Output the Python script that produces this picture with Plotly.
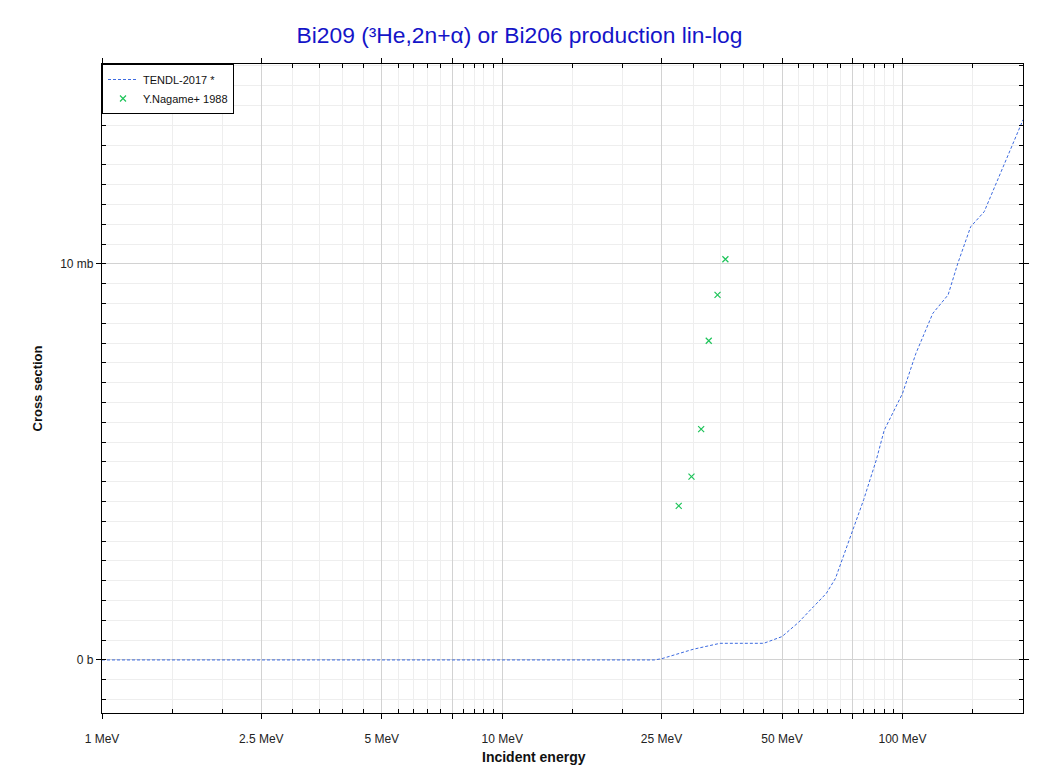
import math
import plotly.graph_objects as go

# ---- data ----
tendl_energy_mev = [1, 5, 10, 20, 24, 25, 26.7, 30, 35, 45, 50, 55, 60, 64.5, 68, 70.5,
                    75, 80, 86, 90, 100, 108, 119, 130, 137.5, 148, 160, 171.5, 200]
tendl_xs_mb = [0, 0, 0, 0, 0, 0.03, 0.12, 0.27, 0.42, 0.42, 0.59, 0.95, 1.35, 1.68, 2.06, 2.5,
               3.3, 4.05, 5.05, 5.8, 6.73, 7.74, 8.75, 9.22, 10.02, 10.94, 11.32, 12.04, 13.64]

nagame_energy_mev = [27.6, 29.7, 31.4, 32.8, 34.5, 36.1]
nagame_xs_mb = [3.89, 4.63, 5.83, 8.06, 9.22, 10.12]

x_major_vals = [1, 2.5, 5, 7.5, 10, 25, 50, 75, 100]
x_major_text = ["1 MeV", "2.5 MeV", "5 MeV", "", "10 MeV", "25 MeV", "50 MeV", "", "100 MeV"]
x_minor_vals = [1.5, 2, 3, 3.5, 4, 4.5, 5.5, 6, 6.5, 7, 8, 8.5, 9, 9.5, 15, 20, 30, 35, 40, 45,
                55, 60, 65, 70, 80, 85, 90, 95, 150]
y_major_vals = [0, 10]
y_major_text = ["0 b", "10 mb"]

title_text = "Bi209 (³He,2n+α) or Bi206 production lin-log"

fig = go.Figure()
fig.add_trace(go.Scatter(
    x=tendl_energy_mev, y=tendl_xs_mb, mode="lines", name="TENDL-2017 *",
    line=dict(color="#3d6be0", width=1, dash="3px,2px"),
))
fig.add_trace(go.Scatter(
    x=nagame_energy_mev, y=nagame_xs_mb, mode="markers", name="Y.Nagame+ 1988",
    marker=dict(symbol="x-thin", size=6, color="#1ec45a", line=dict(color="#1ec45a", width=1.2)),
))

# body has an 8px default margin in the page, so the figure is offset by 8px
fig.update_layout(
    width=1053, height=774,
    margin=dict(l=94, r=38, t=56, b=69),
    paper_bgcolor="white", plot_bgcolor="white",
    font=dict(family="Liberation Sans, Arial, sans-serif", size=12, color="#222"),
    title=dict(text=title_text, x=(519.5 - 8) / 1053, xref="container", y=1 - 27 / 774, yref="container",
               xanchor="center", yanchor="middle",
               font=dict(size=22.8, color="#1414c8")),
    showlegend=True,
    legend=dict(x=0, y=1, xanchor="left", yanchor="top", bgcolor="white",
                bordercolor="black", borderwidth=1, font=dict(size=11, color="#111"),
                tracegroupgap=0),
    annotations=[
        dict(text="<b>Incident energy</b>", xref="paper", yref="paper",
             x=(533.5 - 102) / 921, y=-44 / 649, xanchor="center", yanchor="middle",
             showarrow=False, font=dict(size=14, color="#111")),
        dict(text="<b>Cross section</b>", xref="paper", yref="paper",
             x=-65 / 921, y=0.5, xanchor="center", yanchor="middle", textangle=-90,
             showarrow=False, font=dict(size=13, color="#111")),
    ],
)

fig.update_xaxes(
    type="log", range=[0, math.log10(200)],
    tickmode="array", tickvals=x_major_vals, ticktext=x_major_text,
    ticks="outside", ticklen=5, tickcolor="black", tickwidth=1,
    ticklabelstandoff=9,
    showgrid=True, gridcolor="#d2d2d2", gridwidth=1,
    showline=True, linecolor="black", linewidth=1.2, mirror="allticks",
    zeroline=False,
    tickfont=dict(size=12, color="#222"),
    minor=dict(tickmode="array", tickvals=x_minor_vals, ticks="inside", ticklen=4,
               tickcolor="black", tickwidth=1, showgrid=True, gridcolor="#eeeeee", gridwidth=1),
)
fig.update_yaxes(
    range=[-1.34, 15.05],
    tickmode="array", tickvals=y_major_vals, ticktext=y_major_text,
    ticks="outside", ticklen=5, tickcolor="black", tickwidth=1,
    showgrid=True, gridcolor="#d2d2d2", gridwidth=1,
    showline=True, linecolor="black", linewidth=1.2, mirror="allticks",
    zeroline=False,
    tickfont=dict(size=12, color="#222"),
    minor=dict(tickmode="linear", tick0=0, dtick=0.5, ticks="inside", ticklen=4,
               tickcolor="black", tickwidth=1, showgrid=True, gridcolor="#eeeeee", gridwidth=1),
)

fig.write_html("out.html")
